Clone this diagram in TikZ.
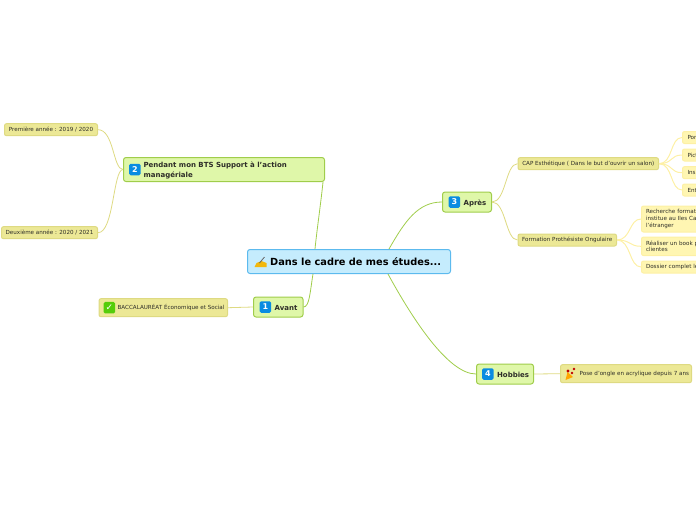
\documentclass[tikz,border=0pt]{standalone}
\usepackage{fontspec}
\setmainfont{DejaVu Sans}
\usepackage{tikz}
\usetikzlibrary{positioning,calc}
\definecolor{rootfill}{RGB}{197,236,253}
\definecolor{rootline}{RGB}{92,186,238}
\definecolor{topicfill}{RGB}{223,247,169}
\definecolor{topicline}{RGB}{160,205,75}
\definecolor{subfill}{RGB}{236,232,150}
\definecolor{subline}{RGB}{222,218,130}
\definecolor{leaffill}{RGB}{255,246,178}
\definecolor{leafline}{RGB}{253,240,165}
\definecolor{badgeblue}{RGB}{10,140,225}
\definecolor{badgegreen}{RGB}{85,205,10}
\definecolor{inktext}{RGB}{45,45,40}
\tikzset{
    rootbox/.style={draw=rootline,fill=rootfill,line width=1pt,rounded corners=2.5pt,minimum height=24pt,anchor=west,inner sep=0pt},
    topicbox/.style={draw=topicline,fill=topicfill,line width=1pt,rounded corners=2.5pt,minimum height=20pt,anchor=west,inner sep=0pt},
    subbox/.style={draw=subline,fill=subfill,line width=1pt,rounded corners=2pt,minimum height=12pt,anchor=west,inner sep=0pt,text=inktext,font=\fontsize{5.6}{6.6}\selectfont},
    leafbox/.style={draw=leafline,fill=leaffill,line width=1pt,rounded corners=2pt,minimum height=12pt,anchor=west,inner sep=0pt,text=inktext,font=\fontsize{5.6}{6.6}\selectfont,align=left},
    badge/.style={fill=badgeblue,rounded corners=1.5pt,minimum size=11.5pt,inner sep=0pt,text=white,font=\fontsize{8}{8}\bfseries\selectfont},
    toptext/.style={inner sep=0pt,anchor=west,text=inktext,align=left,yshift=-1pt,font=\fontsize{7}{9.8}\bfseries\selectfont},
    rootlink/.style={draw=topicline,line width=0.8pt},
    sublink/.style={draw=subline,line width=0.8pt},
    leaflink/.style={draw=leafline,line width=1pt},
}
\begin{document}
\begin{tikzpicture}[x=1pt,y=-1pt]
    \clip (0,0) rectangle (696,520);
    % Centre
    \node[rootbox,minimum width=203pt] (root) at (247,261.5) {};
    \node[inner sep=0pt,anchor=west,font=\fontsize{9.8}{12}\bfseries\selectfont] (roottext) at (270,262) {Dans le cadre de mes études...};
    \coordinate (hand) at (260.5,262);
    \fill[orange!45!yellow!80!brown] ($(hand)+(-6,5)$) -- ($(hand)+(-4,1)$) -- ($(hand)+(1,-1)$) -- ($(hand)+(6,1)$) -- ($(hand)+(6,5)$) -- cycle;
    \draw[black!60,line width=0.8pt] ($(hand)+(-1,1)$) -- ($(hand)+(4,-5)$);
    % Main topics
    \node[topicbox,minimum width=201pt,minimum height=24pt] (pendant) at (123,169.5) {};
    \node[badge,right=6pt of pendant.west] (badgetwo) {2};
    \node[toptext,right=2.5pt of badgetwo] (pendanttext) {Pendant mon BTS Support à l'action\\managériale};
    \node[topicbox,minimum width=49.5pt] (avant) at (253,307) {};
    \node[badge,right=6.5pt of avant.west] (badgeone) {1};
    \node[toptext,right=3pt of badgeone] (avanttext) {Avant};
    \node[topicbox,minimum width=49pt] (apres) at (442,202) {};
    \node[badge,right=6.5pt of apres.west] (badgethree) {3};
    \node[toptext,right=3pt of badgethree] (aprestext) {Après};
    \node[topicbox,minimum width=57pt] (hobbies) at (476,374) {};
    \node[badge,right=6pt of hobbies.west] (badgefour) {4};
    \node[toptext,right=3pt of badgefour] (hobbiestext) {Hobbies};
    % Second level
    \node[subbox,minimum width=93pt] (premiere) at (4,129.7) {Première année : 2019 / 2020};
    \node[subbox,minimum width=96pt] (deuxieme) at (1,232.7) {Deuxième année : 2020 / 2021};
    \node[subbox,minimum width=140.5pt] (cap) at (517.5,163.7) {CAP Esthétique ( Dans le but d'ouvrir un salon)};
    \node[subbox,minimum width=98.5pt] (formation) at (517.5,240) {Formation Prothésiste Ongulaire};
    \node[subbox,minimum width=128.5pt,minimum height=18pt] (bac) at (98.5,307.7) {};
    \node[badge,fill=badgegreen,right=5pt of bac.west] (badgecheck) {\fontsize{9}{9}\selectfont ✓};
    \node[inner sep=0pt,right=2pt of badgecheck,text=inktext,font=\fontsize{5.6}{6.6}\selectfont] (bactext) {BACCALAURÉAT Économique et Social};
    \node[subbox,minimum width=131pt,minimum height=18pt] (pose) at (560,373.7) {};
    \coordinate (party) at (571,374);
    \fill[orange!70!yellow] ($(party)+(-5.5,6)$) -- ($(party)+(-3.5,-2)$) -- ($(party)+(2,3)$) -- cycle;
    \fill[red!75!black] ($(party)+(-3,-3)$) circle (1.6pt) ($(party)+(1,-1)$) circle (1.4pt) ($(party)+(3,-5)$) circle (1.4pt);
    \node[inner sep=0pt,anchor=west,text=inktext,font=\fontsize{5.6}{6.6}\selectfont] (posetext) at (579.5,374) {Pose d'ongle en acrylique depuis 7 ans};
    % Leaves
    \foreach \leafname/\yi/\leaftext in {por/137.5/Por,pict/155/Pict,ins/172.7/Ins,ent/190/Ent} {
        \node[leafbox,minimum width=40pt,text width=36pt] (\leafname) at (682,\yi) {\hspace*{3pt}\leaftext};
        \draw[leaflink] (cap.east) .. controls +(14,0) and +(-12,0) .. (\leafname.west);
    }
    \node[leafbox,minimum width=70pt,text width=66pt,minimum height=26pt] (recherche) at (641,219) {\hspace*{2.5pt}Recherche formati\\\hspace*{2.5pt}institue au Iles Ca\\\hspace*{2.5pt}l'étranger};
    \node[leafbox,minimum width=70pt,text width=66pt,minimum height=18.5pt] (realiser) at (641,246.3) {\hspace*{2.5pt}Réaliser un book p\\\hspace*{2.5pt}clientes};
    \node[leafbox,minimum width=70pt,text width=66pt] (dossier) at (641,267) {\hspace*{2.5pt}Dossier complet le};
    \foreach \leafname in {recherche,realiser,dossier} {
        \draw[leaflink] (formation.east) .. controls +(14,0) and +(-12,0) .. (\leafname.west);
    }
    % Links
    \draw[rootlink] ([xshift=68pt]root.north west) .. controls +(2,-20) and +(-2,20) .. ([xshift=-2pt]pendant.south east);
    \draw[rootlink] ([xshift=66pt]root.south west) .. controls +(-3,18) and +(6,0) .. (avant.east);
    \draw[rootlink] ([xshift=142pt]root.north west) .. controls +(16,-28) and +(-24,0) .. (apres.west);
    \draw[rootlink] ([xshift=141pt]root.south west) .. controls +(24,44) and +(-28,0) .. (hobbies.west);
    \draw[sublink] (premiere.east) .. controls +(16,0) and +(-10,0) .. (pendant.west);
    \draw[sublink] (deuxieme.east) .. controls +(16,0) and +(-10,0) .. (pendant.west);
    \draw[sublink] (apres.east) .. controls +(14,0) and +(-12,0) .. (cap.west);
    \draw[sublink] (apres.east) .. controls +(14,0) and +(-12,0) .. (formation.west);
    \draw[sublink] (bac.east) -- (avant.west);
    \draw[sublink] (hobbies.east) -- (pose.west);
\end{tikzpicture}
\end{document}
